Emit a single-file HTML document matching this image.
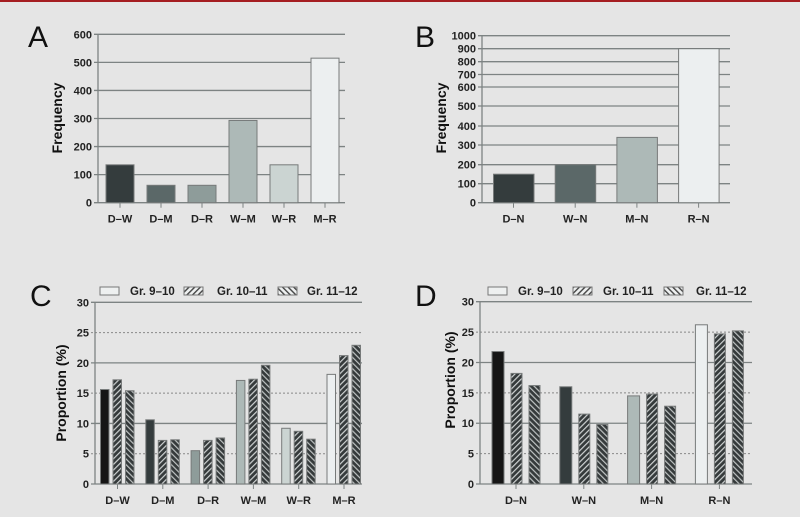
<!DOCTYPE html>
<html><head><meta charset="utf-8">
<style>
html,body{margin:0;padding:0;background:#e5e5e5;}
body{width:800px;height:517px;overflow:hidden;}
svg{display:block;font-family:"Liberation Sans Narrow","Liberation Sans",sans-serif;}
.tk{font-size:11px;font-weight:bold;fill:#222;}
.pl{font-size:30px;fill:#111;}
</style></head>
<body>
<svg id="fig" width="800" height="517" viewBox="0 0 800 517">
<defs>
<pattern id="hatchA" patternUnits="userSpaceOnUse" width="4" height="4" patternTransform="rotate(45)">
<rect width="4" height="4" fill="#353a3b"/><rect width="1.2" height="4" fill="#cfd3d3"/>
</pattern>
<pattern id="hatchB" patternUnits="userSpaceOnUse" width="4" height="4" patternTransform="rotate(-45)">
<rect width="4" height="4" fill="#353a3b"/><rect width="1.2" height="4" fill="#bfc3c3"/>
</pattern>
<pattern id="hatchAL" patternUnits="userSpaceOnUse" width="4" height="4" patternTransform="rotate(45)">
<rect width="4" height="4" fill="#eef0f0"/><rect width="1.4" height="4" fill="#444"/>
</pattern>
<pattern id="hatchBL" patternUnits="userSpaceOnUse" width="4" height="4" patternTransform="rotate(-45)">
<rect width="4" height="4" fill="#eef0f0"/><rect width="1.4" height="4" fill="#444"/>
</pattern>
</defs>
<rect x="0" y="0" width="800" height="2" fill="#a51d21"/>
</svg>
<script>
// Panel A data
const catsA = ["D–W","D–M","D–R","W–M","W–R","M–R"];
const valsA = [135, 62, 62, 293, 135, 515];
const ticksA = [0,100,200,300,400,500,600];
// Panel B data
const catsB = ["D–N","W–N","M–N","R–N"];
const valsB = [150, 200, 340, 900];
const ticksB = [0,100,200,300,400,500,600,700,800,900,1000];
// Panel C data
const catsC = ["D–W","D–M","D–R","W–M","W–R","M–R"];
const c910 = [15.6, 10.6, 5.5, 17.1, 9.2, 18.1];
const c1011 = [17.2, 7.2, 7.2, 17.3, 8.7, 21.2];
const c1112 = [15.4, 7.3, 7.6, 19.6, 7.4, 22.9];
// Panel D data
const catsD = ["D–N","W–N","M–N","R–N"];
const d910 = [21.8, 16.0, 14.5, 26.2];
const d1011 = [18.2, 11.5, 14.8, 24.7];
const d1112 = [16.2, 9.8, 12.8, 25.2];
const ticksP = [0,5,10,15,20,25,30];
const legendLabels = ["Gr. 9–10","Gr. 10–11","Gr. 11–12"];

const NS="http://www.w3.org/2000/svg";
const svg=document.getElementById('fig');
function mk(tag,attrs,parent){const e=document.createElementNS(NS,tag);for(const k in attrs)e.setAttribute(k,attrs[k]);(parent||svg).appendChild(e);return e;}

const fills6=["#343c3d","#5b6868","#8e9c9a","#adb9b7","#cbd4d2","#eceff0"];
const fills4=["#343c3d","#5b6868","#adb9b7","#eceff0"];
const fillsC=["#151515","#343c3d","#8e9c9a","#adb9b7","#cbd4d2","#eceff0"];
const fillsD=["#151515","#343c3d","#adb9b7","#eceff0"];

function linScale(y0,y1,vmax){return v=>y0-(v/vmax)*(y0-y1);}
function pieceScale(ticks,pix){return v=>{for(let i=0;i<ticks.length-1;i++){if(v<=ticks[i+1]){const t=(v-ticks[i])/(ticks[i+1]-ticks[i]);return pix[i]+t*(pix[i+1]-pix[i]);}}return pix[pix.length-1];};}

function axisFrame(g,x0,x1,ticks,ys,dotted,label,labelX,labelY){
  ticks.forEach((t,i)=>{
    const y=ys(t);
    const dot=dotted&&(t%10===5);
    const ln=mk('line',{x1:x0-4,x2:x1,y1:y,y2:y,stroke:dot?'#888':'#7d8383','stroke-width':dot?1:1.3,'stroke-dasharray':dot?'2,2':'none'},g);
    
    
    const tx=mk('text',{x:x0-6,y:y+4,'text-anchor':'end',class:'tk'},g);
    tx.textContent=t;
    
    
  });
  const ax=mk('line',{x1:x0,x2:x0,y1:ys(ticks[ticks.length-1]),y2:ys(0),stroke:'#7d8383','stroke-width':1.3},g);
  
  
  const yl=mk('text',{x:labelX,y:labelY,'text-anchor':'middle',transform:`rotate(-90 ${labelX} ${labelY})`,style:'font-size:14px;font-weight:bold;fill:#111'},g);
  yl.textContent=label;
  
  
}

function panelLetter(t,x,y){const e=mk('text',{x:x,y:y,class:'pl'});e.textContent=t;
  
  }

function xLabel(g,txt,cx,y0){
  mk('line',{x1:cx,x2:cx,y1:y0,y2:y0+5,stroke:'#7d8383','stroke-width':1},g);
  const t=mk('text',{x:cx,y:y0+20,'text-anchor':'middle',class:'tk'},g);t.textContent=txt;
  
  
}

function bar(g,x,w,y,y0,fill,name){
  const r=mk('rect',{x:x,y:y,width:w,height:Math.max(0,y0-y),fill:fill,stroke:'#777a7a','stroke-width':1},g);
  
  
}

// ---- Panel A
(function(){
  const g=mk('g',{});
  panelLetter('A',28,47);
  const ys=linScale(202.7,34.3,600);
  axisFrame(g,98,345,ticksA,ys,false,'Frequency',62,118);
  catsA.forEach((c,i)=>{
    const x=106+i*41;
    bar(g,x,28,ys(valsA[i]),ys(0),fills6[i],'bar-a-'+i);
    xLabel(g,c,x+14,ys(0));
  });
})();
// ---- Panel B
(function(){
  const g=mk('g',{});
  panelLetter('B',415,47);
  const ys=pieceScale(ticksB,[202.7,183.7,164.7,145,126,106,87,74.5,61.7,48.7,35.7]);
  axisFrame(g,482,730,ticksB,ys,false,'Frequency',446,118);
  catsB.forEach((c,i)=>{
    const x=493.5+i*61.7;
    bar(g,x,40.5,ys(valsB[i]),ys(0),fills4[i],'bar-b-'+i);
    xLabel(g,c,x+20,ys(0));
  });
})();

function legend(g,x0s,tx0s,y){
  const fl=['#eef0f0','url(#hatchAL)','url(#hatchBL)'];
  legendLabels.forEach((l,i)=>{
    const r=mk('rect',{x:x0s[i],y:y,width:19,height:8,fill:fl[i],stroke:'#777','stroke-width':1},g);
    
    
    const t=mk('text',{x:tx0s[i],y:y+8,style:'font-size:11.5px;font-weight:bold;fill:#222'},g);t.textContent=l;
    
    
  });
}
// ---- Panel C
(function(){
  const g=mk('g',{});
  panelLetter('C',30,306);
  const ys=linScale(484,302.3,30);
  axisFrame(g,95,362,ticksP,ys,true,'Proportion (%)',66,393);
  legend(g,[100,184,278],[130,217,307],287);
  catsC.forEach((c,i)=>{
    const x=100.5+i*45.3;
    bar(g,x,8.5,ys(c910[i]),ys(0),fillsC[i],'bar-c-910-'+i);
    bar(g,x+12.5,8.5,ys(c1011[i]),ys(0),'url(#hatchA)','bar-c-1011-'+i);
    bar(g,x+25,8.5,ys(c1112[i]),ys(0),'url(#hatchB)','bar-c-1112-'+i);
    xLabel(g,c,x+17,ys(0));
  });
})();
// ---- Panel D
(function(){
  const g=mk('g',{});
  panelLetter('D',415,306);
  const ys=linScale(484,301.7,30);
  axisFrame(g,480,752,ticksP,ys,true,'Proportion (%)',455,380);
  legend(g,[488,573,664],[518,603,696],287);
  catsD.forEach((c,i)=>{
    const x=492+i*67.8;
    bar(g,x,12,ys(d910[i]),ys(0),fillsD[i],'bar-d-910-'+i);
    bar(g,x+19,11,ys(d1011[i]),ys(0),'url(#hatchA)','bar-d-1011-'+i);
    bar(g,x+37,11,ys(d1112[i]),ys(0),'url(#hatchB)','bar-d-1112-'+i);
    xLabel(g,c,x+24,ys(0));
  });
})();
</script>
</body></html>
